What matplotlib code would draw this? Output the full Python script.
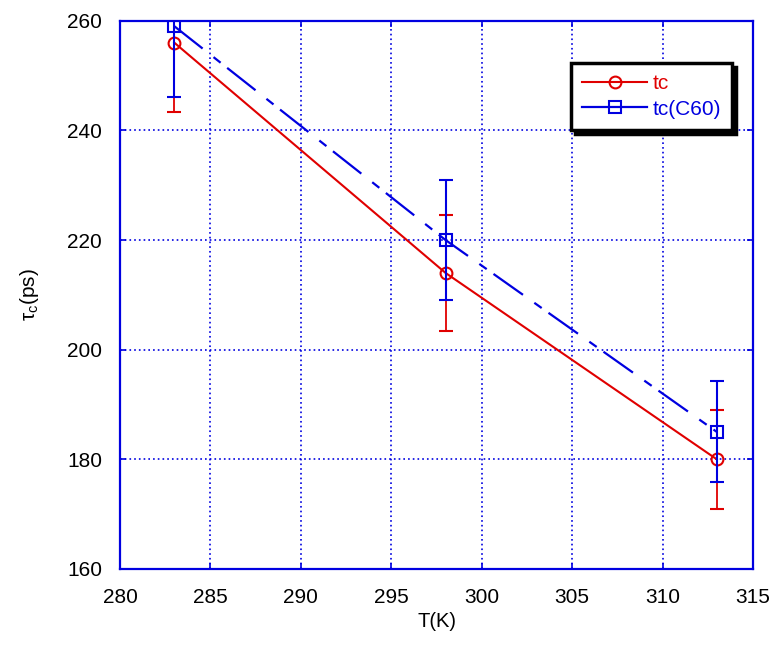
import matplotlib
matplotlib.use("Agg")
import matplotlib.pyplot as plt
from matplotlib.lines import Line2D

plt.rcParams['font.family'] = ['Liberation Sans', 'DejaVu Sans']
plt.rcParams['lines.scale_dashes'] = False
plt.rcParams['mathtext.fontset'] = 'custom'
plt.rcParams['mathtext.rm'] = 'Liberation Sans'
plt.rcParams['mathtext.it'] = 'Liberation Sans'

temps = [283, 298, 313]
tc = [256, 214, 180]
tc_err = [12.7, 10.6, 9.0]
tc60 = [259, 220, 185]
tc60_err = [13, 11, 9.2]

xticks = [280, 285, 290, 295, 300, 305, 310, 315]
yticks = [160, 180, 200, 220, 240, 260]

fig = plt.figure(figsize=(7.71, 6.61), dpi=100)
ax = fig.add_axes([120/771, 1-569/661, (753-120)/771, (569-20.7)/661])

blue = '#0000e0'
red = '#e00000'
dash = (0, (26, 10, 6.5, 6))

ax.errorbar(temps, tc, yerr=tc_err, color=red, lw=1.5, marker='o', ms=8.5,
            mfc='none', mec=red, mew=1.5, capsize=5, capthick=1.3,
            elinewidth=1.3, zorder=3)
ax.errorbar(temps, tc60, yerr=tc60_err, color=blue, lw=1.6,
            linestyle=dash, marker='s', ms=8,
            mfc='none', mec=blue, mew=1.5, capsize=5, capthick=1.3,
            elinewidth=1.5, zorder=4)

ax.set_xlim(280, 315)
ax.set_ylim(160, 260)
ax.set_xticks(xticks)
ax.set_yticks(yticks)
ax.grid(True, color=blue, linestyle=(0, (1.2, 2.2)), lw=1.2)
ax.set_axisbelow(True)
for s in ax.spines.values():
    s.set_color(blue)
    s.set_linewidth(1.6)
ax.tick_params(direction='in', colors=blue, labelcolor='black', length=4,
               width=1.2, labelsize=15, top=True, right=True)
ax.tick_params(axis='x', pad=14)
ax.tick_params(axis='y', pad=13)

ax.set_xlabel('T(K)', fontsize=14.5, labelpad=3)
ax.set_ylabel(r'τ$_\mathregular{c}$(ps)', fontsize=15, labelpad=19)

handles = [
    Line2D([], [], color=red, lw=1.5, marker='o', ms=8.5, mfc='none',
           mec=red, mew=1.5),
    Line2D([], [], color=blue, lw=1.6, marker='s', ms=8, mfc='none',
           mec=blue, mew=1.5),
]
leg = ax.legend(handles, ['tc', 'tc(C60)'], loc='upper right',
                bbox_to_anchor=(0.967, 0.923),
                borderaxespad=0, fontsize=15, handlelength=3.1,
                handletextpad=0.25,
                fancybox=False, framealpha=1,
                shadow={'color': 'black', 'alpha': 1, 'ox': 3, 'oy': -3},
                borderpad=0.55, labelspacing=0.3)
leg.get_frame().set_edgecolor('black')
leg.get_frame().set_linewidth(2.5)
for t, c in zip(leg.get_texts(), [red, blue]):
    t.set_color(c)

fig.savefig('out.png', dpi=100)
